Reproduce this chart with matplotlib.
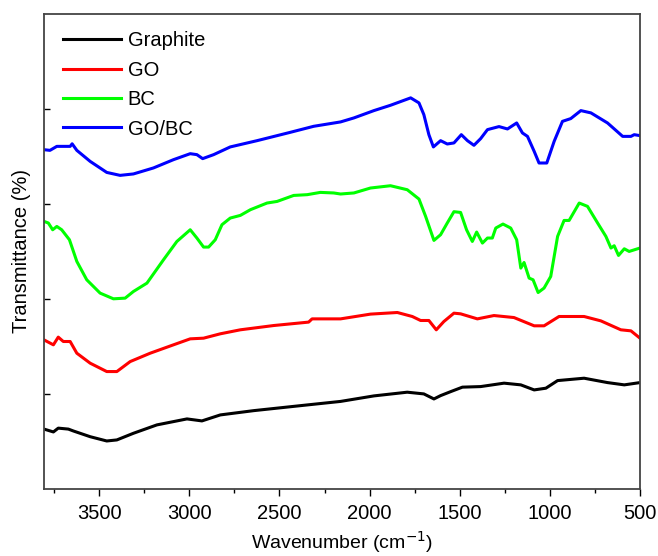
import matplotlib
matplotlib.use("Agg")
import matplotlib.pyplot as plt
from matplotlib.ticker import MultipleLocator

plt.rcParams['font.family'] = ['Liberation Sans', 'DejaVu Sans']

# Data (wavenumber in cm-1, offset transmittance in a.u.)
graphite_wn = [3806, 3754, 3727, 3671, 3643, 3550, 3458, 3402, 3310, 3180, 3013, 2930,
               2828, 2643, 2346, 2161, 1976, 1791, 1699, 1643, 1606, 1550, 1485, 1384,
               1254, 1161, 1087, 1022, 957, 810, 680, 587, 500]
graphite_t = [0.63, 0.60, 0.64, 0.63, 0.61, 0.55, 0.505, 0.516, 0.586, 0.674, 0.737, 0.716,
              0.779, 0.824, 0.884, 0.921, 0.979, 1.018, 1.000, 0.947, 0.982, 1.024, 1.071, 1.077,
              1.113, 1.095, 1.042, 1.060, 1.140, 1.165, 1.119, 1.095, 1.119]

go_wn = [3806, 3754, 3727, 3699, 3661, 3624, 3550, 3458, 3402, 3328, 3217, 3088, 2995,
         2921, 2828, 2717, 2532, 2338, 2319, 2161, 1995, 1846, 1763, 1717, 1671, 1630,
         1588, 1532, 1495, 1402, 1310, 1199, 1087, 1032, 949, 810, 717, 606, 550, 500]
go_t = [1.568, 1.516, 1.597, 1.551, 1.551, 1.428, 1.323, 1.235, 1.235, 1.340, 1.428, 1.516,
        1.579, 1.586, 1.632, 1.674, 1.719, 1.755, 1.789, 1.789, 1.839, 1.856, 1.814, 1.772,
        1.772, 1.674, 1.761, 1.849, 1.842, 1.789, 1.824, 1.803, 1.716, 1.716, 1.814, 1.814,
        1.768, 1.674, 1.663, 1.586]

bc_wn = [3806, 3782, 3758, 3735, 3708, 3665, 3624, 3569, 3495, 3421, 3356, 3310, 3235,
         3143, 3069, 2995, 2958, 2921, 2893, 2856, 2819, 2773, 2717, 2661, 2569, 2513,
         2421, 2346, 2273, 2199, 2161, 2087, 1995, 1884, 1791, 1726, 1689, 1643, 1606,
         1569, 1532, 1495, 1462, 1430, 1406, 1374, 1346, 1319, 1300, 1260, 1217, 1184,
         1161, 1143, 1115, 1093, 1065, 1032, 995, 957, 921, 893, 837, 791, 735, 689,
         661, 643, 619, 587, 560, 500]
bc_t = [2.814, 2.797, 2.726, 2.761, 2.726, 2.621, 2.393, 2.200, 2.060, 2.000, 2.007, 2.077,
        2.165, 2.411, 2.603, 2.726, 2.639, 2.544, 2.544, 2.621, 2.779, 2.849, 2.877, 2.937,
        3.007, 3.024, 3.087, 3.095, 3.119, 3.113, 3.102, 3.113, 3.165, 3.189, 3.147, 3.049,
        2.866, 2.614, 2.674, 2.797, 2.916, 2.908, 2.726, 2.603, 2.702, 2.586, 2.639, 2.639,
        2.744, 2.786, 2.744, 2.621, 2.323, 2.382, 2.218, 2.200, 2.066, 2.113, 2.235, 2.656,
        2.824, 2.824, 3.007, 2.972, 2.797, 2.656, 2.534, 2.558, 2.456, 2.526, 2.498, 2.534]

gobc_wn = [3806, 3773, 3735, 3661, 3650, 3624, 3550, 3458, 3384, 3310, 3199, 3088, 2995,
           2958, 2926, 2865, 2773, 2624, 2439, 2310, 2161, 2087, 1976, 1884, 1772, 1726,
           1699, 1671, 1646, 1606, 1569, 1532, 1491, 1457, 1421, 1384, 1346, 1282, 1235,
           1184, 1152, 1124, 1087, 1060, 1017, 976, 930, 884, 828, 772, 680, 596, 550,
           532, 500]
gobc_t = [3.568, 3.561, 3.603, 3.603, 3.630, 3.561, 3.445, 3.329, 3.298, 3.313, 3.376, 3.463,
          3.526, 3.516, 3.474, 3.516, 3.597, 3.663, 3.751, 3.814, 3.860, 3.902, 3.979, 4.035,
          4.113, 4.060, 3.937, 3.726, 3.597, 3.663, 3.628, 3.639, 3.726, 3.663, 3.614, 3.684,
          3.779, 3.811, 3.786, 3.849, 3.744, 3.708, 3.551, 3.428, 3.428, 3.656, 3.866, 3.895,
          3.979, 3.955, 3.849, 3.708, 3.708, 3.726, 3.716]

labels = ['Graphite', 'GO', 'BC', 'GO/BC']
colors = ['#000000', '#ff0000', '#00ff00', '#0000ff']

fig = plt.figure(figsize=(6.58, 5.56), dpi=100)
ax = fig.add_axes([0.0669, 0.1205, 0.9057, 0.8552])

series = [(graphite_wn, graphite_t), (go_wn, go_t), (bc_wn, bc_t), (gobc_wn, gobc_t)]
for (wn, t), lab, col in zip(series, labels, colors):
    ax.plot(wn, t, color=col, lw=2.2, label=lab)

ax.set_xlim(3806, 500)
ax.set_ylim(0, 5)
ax.xaxis.set_major_locator(MultipleLocator(500))
ax.xaxis.set_minor_locator(MultipleLocator(250))
ax.set_yticks([1, 2, 3, 4])
ax.set_yticklabels([])

ax.tick_params(axis='x', which='major', direction='out', length=5, width=1, labelsize=14.5, pad=6)
ax.tick_params(axis='x', which='minor', direction='out', length=3, width=1)
ax.tick_params(axis='y', which='major', direction='in', length=4, width=1)

for sp in ax.spines.values():
    sp.set_color('#444444')
    sp.set_linewidth(1.3)

ax.set_xlabel('Wavenumber (cm$^{-1}$)', fontsize=14, labelpad=4)
ax.set_ylabel('Transmittance (%)', fontsize=14.5, labelpad=6)

ax.legend(loc='upper left', bbox_to_anchor=(0.032, 0.963), frameon=False, fontsize=14.5,
          handlelength=2.9, handletextpad=0.3, labelspacing=0.52, borderpad=0,
          borderaxespad=0)

fig.savefig('out.png', dpi=100)
